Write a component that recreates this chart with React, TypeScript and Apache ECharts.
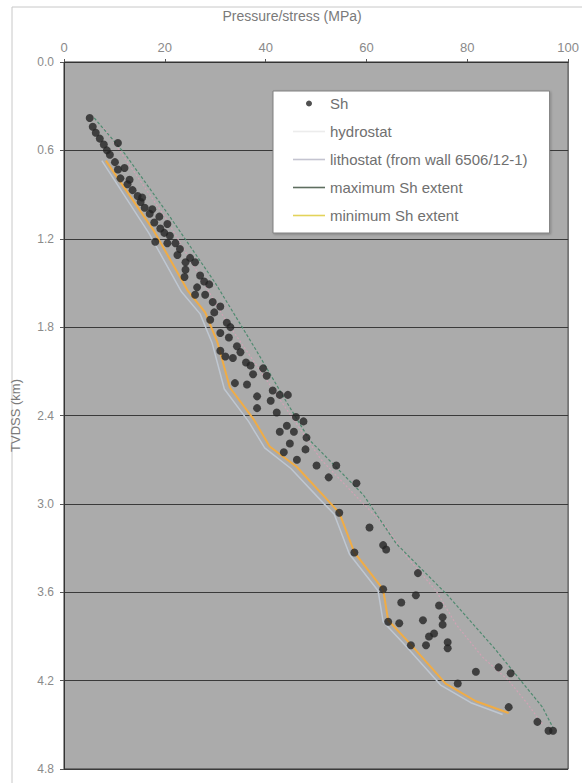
import React, { useEffect, useRef } from "react";
import * as echarts from "echarts";

// Sh measurements (MPa, km TVDSS)
const shPressure = [
  5.1, 5.7, 6.3, 7.1, 7.9, 10.7, 8.5, 9.1, 10.1, 10.7, 12.0, 11.2, 13.0, 12.6, 13.6, 14.6, 15.5,
  15.2, 16.0, 17.5, 17.0, 18.9, 17.9, 19.1, 19.9, 20.5, 18.1, 20.5, 21.0, 22.1, 22.5, 23.0, 24.1,
  26.0, 25.0, 24.1, 23.9, 27.0, 27.8, 26.4, 28.8, 26.0, 28.0, 29.8, 29.0, 29.5, 31.0, 32.3, 31.0,
  33.0, 32.7, 34.3, 31.0, 32.0, 33.5, 35.0, 36.1, 37.5, 37.0, 40.2, 39.5, 33.9, 36.3, 41.4, 42.8,
  44.4, 38.3, 38.3, 41.0, 42.2, 46.0, 47.5, 44.2, 42.8, 45.6, 48.1, 44.8, 47.9, 43.6, 46.2, 50.1,
  54.0, 52.5, 58.0, 54.6, 60.6, 63.3, 63.9, 57.6, 70.2, 63.3, 69.8, 66.9, 74.4, 75.1, 71.2, 64.3,
  66.5, 75.1, 73.4, 72.4, 71.8, 76.1, 68.8, 76.1, 81.7, 86.2, 88.6, 78.1, 88.2, 93.9, 96.1, 97.0,
];
const shDepth = [
  0.38, 0.44, 0.48, 0.52, 0.56, 0.55, 0.6, 0.63, 0.68, 0.73, 0.72, 0.79, 0.8, 0.83, 0.87, 0.91, 0.92,
  0.95, 0.99, 1.0, 1.03, 1.05, 1.09, 1.13, 1.16, 1.1, 1.22, 1.23, 1.18, 1.23, 1.31, 1.27, 1.36,
  1.36, 1.33, 1.41, 1.46, 1.45, 1.49, 1.53, 1.51, 1.58, 1.58, 1.7, 1.75, 1.63, 1.66, 1.77, 1.84,
  1.8, 1.87, 1.93, 1.96, 2.0, 2.01, 1.97, 2.04, 2.12, 2.06, 2.13, 2.08, 2.18, 2.19, 2.23, 2.26,
  2.26, 2.27, 2.35, 2.3, 2.38, 2.41, 2.44, 2.47, 2.51, 2.51, 2.55, 2.59, 2.63, 2.65, 2.7, 2.74,
  2.74, 2.82, 2.86, 3.06, 3.16, 3.28, 3.31, 3.33, 3.47, 3.58, 3.62, 3.67, 3.69, 3.77, 3.79, 3.8,
  3.81, 3.82, 3.88, 3.9, 3.96, 3.94, 3.96, 3.98, 4.14, 4.11, 4.15, 4.22, 4.38, 4.48, 4.54, 4.54,
];

// hydrostat
const hydroPressure = [7.5, 16.8, 23.3, 27.0, 29.4, 31.8, 36.6, 39.8, 45.0, 51.6, 53.6, 56.6, 62.3, 63.3, 67.4, 74.7, 80.7, 87.0];
const hydroDepth = [0.67, 1.16, 1.56, 1.71, 1.91, 2.22, 2.44, 2.62, 2.76, 3.0, 3.07, 3.34, 3.59, 3.8, 3.95, 4.23, 4.35, 4.43];

// lithostat (from well 6506/12-1)
const lithoPressure = [8, 14, 20, 26, 32, 38, 45, 51, 57.7, 64, 68, 73.8, 77.8, 83, 88.2, 92, 95];
const lithoDepth = [0.45, 0.75, 1.05, 1.4, 1.75, 2.05, 2.4, 2.7, 2.94, 3.16, 3.36, 3.59, 3.82, 4.04, 4.2, 4.36, 4.5];

// maximum Sh extent
const maxPressure = [6, 12, 21, 30, 38, 44, 48.8, 59.4, 65.9, 75.8, 85.6, 94.9, 97];
const maxDepth = [0.38, 0.62, 1.05, 1.5, 1.95, 2.3, 2.57, 2.94, 3.27, 3.61, 3.99, 4.38, 4.52];

// minimum Sh extent
const minPressure = [8.3, 17.9, 24.5, 28.0, 30.4, 32.9, 37.7, 40.8, 46.2, 52.7, 54.6, 57.6, 63.3, 64.3, 68.4, 75.7, 81.7, 88.2];
const minDepth = [0.67, 1.15, 1.55, 1.7, 1.9, 2.21, 2.43, 2.61, 2.75, 2.99, 3.06, 3.33, 3.58, 3.79, 3.94, 4.22, 4.34, 4.42];

const xTicksMin = 0;
const xTicksMax = 100;
const xInterval = 20;
const yTicksMin = 0;
const yTicksMax = 4.8;
const yInterval = 0.6;

const zip = (xs: number[], ys: number[]) => xs.map((x, i) => [x, ys[i]]);

const FONT = "'Liberation Sans', Arial, Helvetica, sans-serif";
const LINE_ICON = "path://M0,0 L32,0 L32,1.6 L0,1.6 Z";

export default function App() {
  const ref = useRef<HTMLDivElement>(null);
  useEffect(() => {
    const chart = echarts.init(ref.current!, null, { renderer: "svg" });
    chart.setOption({
      animation: false,
      backgroundColor: "#ffffff",
      grid: {
        left: 64,
        right: 10,
        top: 62,
        bottom: 14,
        show: true,
        backgroundColor: "#ababab",
        borderColor: "#333333",
        borderWidth: 1,
      },
      graphic: [
        {
          type: "rect",
          shape: { x: 12, y: 7, width: 620, height: 800 },
          style: { fill: "none", stroke: "#c8c8c8", lineWidth: 1 },
          silent: true,
        },
      ],
      legend: {
        orient: "vertical",
        left: 273,
        top: 91,
        padding: [5, 22, 10, 20],
        itemWidth: 32,
        itemHeight: 6,
        itemGap: 13,
        backgroundColor: "#ffffff",
        borderColor: "#808080",
        borderWidth: 1,
        shadowColor: "rgba(0,0,0,0.25)",
        shadowBlur: 2,
        shadowOffsetX: 1,
        shadowOffsetY: 1,
        textStyle: { color: "#707070", fontSize: 15, fontFamily: FONT },
        data: [
          { name: "Sh", icon: "circle" },
          { name: "hydrostat", icon: LINE_ICON, itemStyle: { color: "#ececec" } },
          { name: "lithostat (from wall 6506/12-1)", icon: LINE_ICON, itemStyle: { color: "#c4c4d0" } },
          { name: "maximum Sh extent", icon: LINE_ICON, itemStyle: { color: "#5e6e60" } },
          { name: "minimum Sh extent", icon: LINE_ICON, itemStyle: { color: "#e3d35a" } },
        ],
      },
      xAxis: {
        type: "value",
        position: "top",
        min: xTicksMin,
        max: xTicksMax,
        interval: xInterval,
        name: "Pressure/stress (MPa)",
        nameLocation: "middle",
        nameGap: 39,
        nameTextStyle: { color: "#7a7a7a", fontSize: 14, fontFamily: FONT, padding: [0, 48, 0, 0] },
        axisLine: { show: true, lineStyle: { color: "#333333", width: 1 } },
        axisTick: { show: true, inside: false, length: 3, lineStyle: { color: "#555555" } },
        axisLabel: { color: "#8a8a8a", fontSize: 13, fontFamily: FONT, margin: 8 },
        splitLine: { show: false },
      },
      yAxis: {
        type: "value",
        inverse: true,
        min: yTicksMin,
        max: yTicksMax,
        interval: yInterval,
        name: "TVDSS (km)",
        nameLocation: "middle",
        nameGap: 42,
        nameTextStyle: { color: "#7a7a7a", fontSize: 13, fontFamily: FONT },
        axisLine: { show: true, lineStyle: { color: "#333333", width: 1 } },
        axisTick: { show: true, inside: false, length: 4, lineStyle: { color: "#555555" } },
        axisLabel: {
          color: "#8a8a8a",
          fontSize: 12,
          fontFamily: FONT,
          margin: 10,
          formatter: (v: number) => v.toFixed(1),
        },
        splitLine: { show: true, lineStyle: { color: "#3a3a3a", width: 1 } },
      },
      series: [
        {
          name: "hydrostat",
          type: "line",
          data: zip(hydroPressure, hydroDepth),
          symbol: "none",
          lineStyle: { color: "#bfc7d1", width: 1.5 },
          itemStyle: { color: "#ececec" },
          z: 2,
        },
        {
          name: "lithostat (from wall 6506/12-1)",
          type: "line",
          data: zip(lithoPressure, lithoDepth),
          symbol: "none",
          lineStyle: { color: "#cfa3b4", width: 1.2, type: [2, 2] },
          itemStyle: { color: "#c4c4d0" },
          z: 2,
        },
        {
          name: "maximum Sh extent",
          type: "line",
          data: zip(maxPressure, maxDepth),
          symbol: "none",
          lineStyle: { color: "#4f8a70", width: 1.2, type: [3, 2] },
          itemStyle: { color: "#5e6e60" },
          z: 2,
        },
        {
          name: "minimum Sh extent",
          type: "line",
          data: zip(minPressure, minDepth),
          symbol: "none",
          lineStyle: { color: "#f0ac45", width: 2 },
          itemStyle: { color: "#e3d35a" },
          z: 3,
        },
        {
          name: "Sh",
          type: "scatter",
          data: zip(shPressure, shDepth),
          symbol: "circle",
          symbolSize: 8,
          itemStyle: { color: "#242424" },
          z: 4,
        },
      ],
    });
    return () => chart.dispose();
  }, []);
  return (
    <div
      ref={ref}
      style={{ position: "absolute", left: 0, top: 0, width: 582, height: 783, background: "#ffffff" }}
    />
  );
}
